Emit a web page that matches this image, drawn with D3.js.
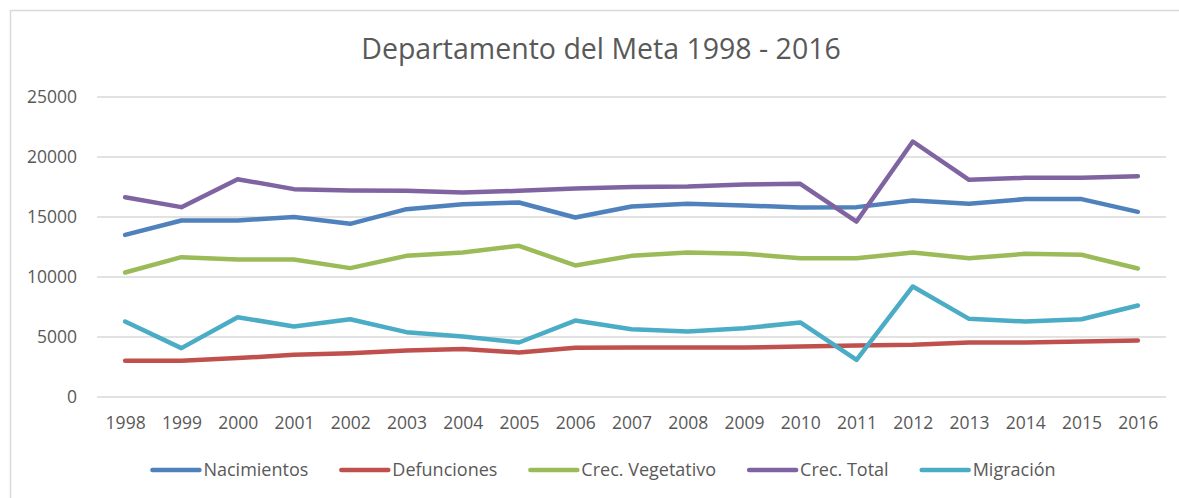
<!DOCTYPE html>
<html lang="es">
<head>
<meta charset="UTF-8">
<title>Departamento del Meta 1998 - 2016</title>
<script src="https://d3js.org/d3.v7.min.js"></script>
<style>
  body { margin: 0; background: #fff; }
  svg text { font-family: "Open Sans", sans-serif; fill: #595959; }
</style>
</head>
<body>
<svg id="chart" width="1179" height="498"></svg>
<script>
// data
var years = ["1998","1999","2000","2001","2002","2003","2004","2005","2006","2007",
             "2008","2009","2010","2011","2012","2013","2014","2015","2016"];

var nacimientos = [13470, 14670, 14670, 14950, 14390, 15610, 16030, 16170, 14920, 15840,
                   16060, 15920, 15750, 15780, 16340, 16060, 16450, 16450, 15390];
var defunciones = [2980, 2980, 3200, 3470, 3610, 3830, 3950, 3670, 4060, 4080,
                   4080, 4080, 4170, 4250, 4310, 4500, 4500, 4580, 4670];
var crecVegetativo = [10330, 11610, 11420, 11420, 10700, 11720, 12000, 12560, 10920, 11720,
                      12000, 11890, 11530, 11530, 12000, 11530, 11890, 11810, 10670];
var crecTotal = [16610, 15780, 18110, 17280, 17170, 17140, 17000, 17140, 17330, 17450,
                 17500, 17670, 17720, 14580, 21250, 18060, 18220, 18220, 18360];
var migracion = [6250, 4030, 6610, 5830, 6440, 5360, 5000, 4500, 6330, 5610,
                 5420, 5690, 6170, 3060, 9170, 6470, 6250, 6440, 7580];

var seriesNames = ["Nacimientos", "Defunciones", "Crec. Vegetativo", "Crec. Total", "Migración"];
var seriesColors = ["#4F81BD", "#C0504D", "#9BBB59", "#8064A2", "#4BACC6"];
var yTicks = [0, 5000, 10000, 15000, 20000, 25000];

var series = [nacimientos, defunciones, crecVegetativo, crecTotal, migracion].map(function(v, i) {
  return { name: seriesNames[i], color: seriesColors[i], values: v };
});

var svg = d3.select("#chart");

// chart area border (only top and left are inside the picture)
svg.append("rect")
  .attr("x", 10.5).attr("y", 10.5)
  .attr("width", 1300).attr("height", 600)
  .attr("fill", "none")
  .attr("stroke", "#D9D9D9")
  .attr("stroke-width", 1.5);

var x = d3.scalePoint().domain(years).range([97, 1166]).padding(0.5);
var y = d3.scaleLinear().domain([0, 25000]).range([396.5, 96.5]);

// title
svg.append("text")
  .attr("x", 601).attr("y", 59)
  .attr("text-anchor", "middle")
  .style("font-size", "28.5px")
  .text("Departamento del Meta 1998 - 2016");

// gridlines + y labels
var yAxis = svg.append("g")
  .attr("transform", "translate(97,0)")
  .call(d3.axisLeft(y).tickValues(yTicks).tickSize(-1069).tickPadding(20).tickFormat(d3.format("d")));
yAxis.select(".domain").remove();
yAxis.selectAll(".tick line").attr("stroke", "#D9D9D9").attr("stroke-width", 1.5);
yAxis.selectAll(".tick text").style("font-size", "17.5px").attr("fill", "#595959");

// x labels
var xAxis = svg.append("g")
  .attr("transform", "translate(0,396.5)")
  .call(d3.axisBottom(x).tickSize(0).tickPadding(20));
xAxis.select(".domain").remove();
xAxis.selectAll(".tick text").style("font-size", "17.5px").attr("fill", "#595959");

// lines
var line = d3.line()
  .x(function(d, i) { return x(years[i]); })
  .y(function(d) { return y(d); });

svg.selectAll("path.serie")
  .data(series)
  .enter()
  .append("path")
  .attr("class", "serie")
  .attr("d", function(d) { return line(d.values); })
  .attr("fill", "none")
  .attr("stroke", function(d) { return d.color; })
  .attr("stroke-width", 4.5)
  .attr("stroke-linejoin", "round")
  .attr("stroke-linecap", "round");

// legend
var legend = svg.append("g");
var items = legend.selectAll("g")
  .data(series)
  .enter()
  .append("g");
items.append("line")
  .attr("x1", 0).attr("x2", 47)
  .attr("y1", 0).attr("y2", 0)
  .attr("stroke", function(d) { return d.color; })
  .attr("stroke-width", 4.5)
  .attr("stroke-linecap", "round");
items.append("text")
  .attr("x", 51).attr("y", 6)
  .style("font-size", "18px")
  .text(function(d) { return d.name; });

var pos = 0, gap = 33, widths = [];
items.each(function() { widths.push(this.getBBox().width); });
var total = d3.sum(widths) + gap * (widths.length - 1);
var start = 604 - total / 2;
items.attr("transform", function(d, i) {
  var tx = start + pos;
  pos += widths[i] + gap;
  return "translate(" + tx + ",470)";
});
</script>
</body>
</html>
